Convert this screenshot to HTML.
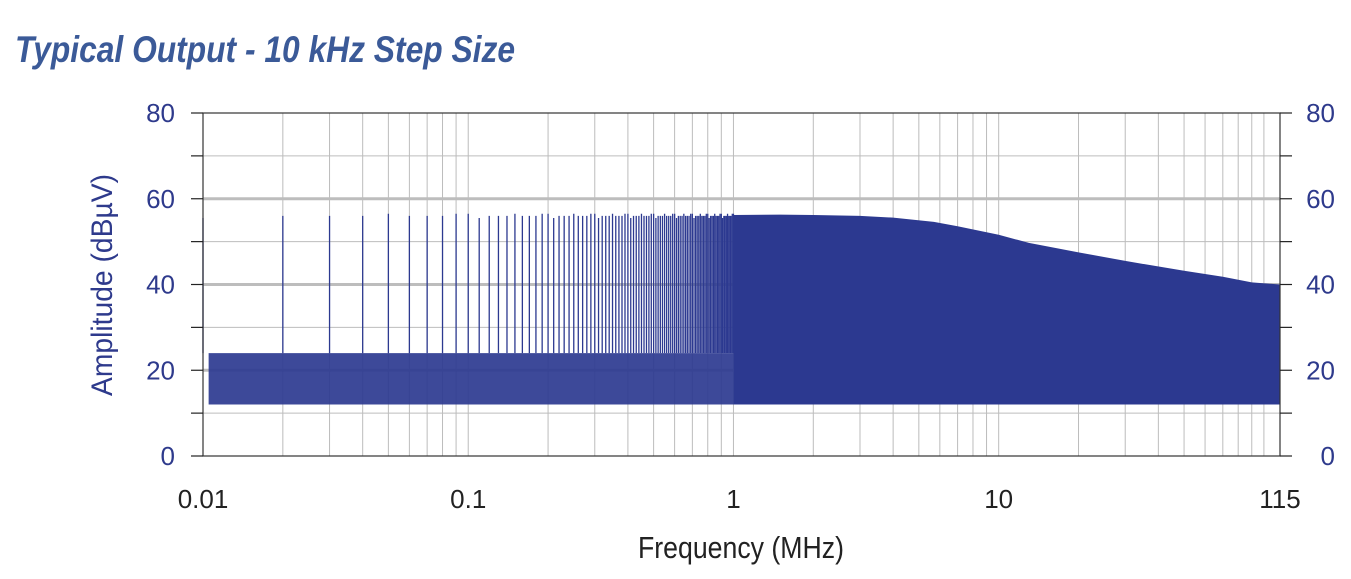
<!DOCTYPE html>
<html><head><meta charset="utf-8"><style>
html,body{margin:0;padding:0;background:#fff;}
svg{display:block;font-family:"Liberation Sans",sans-serif;}
</style></head><body>
<svg id="chart" width="1351" height="579" viewBox="0 0 1351 579">
<text x="15" y="62" font-size="37" font-style="italic" font-weight="bold" fill="#3b5a98" textLength="500" lengthAdjust="spacingAndGlyphs">Typical Output - 10 kHz Step Size</text>
<g id="grid"></g>
<g id="series"></g>
<g id="axes"></g>
<text x="741" y="558" font-size="31" fill="#222" text-anchor="middle" textLength="206" lengthAdjust="spacingAndGlyphs">Frequency (MHz)</text>
<text transform="translate(112,285) rotate(-90)" font-size="30" fill="#2e3a8c" text-anchor="middle" textLength="222" lengthAdjust="spacingAndGlyphs">Amplitude (dBµV)</text>
</svg>
<script>
const stepMHz = 0.01;
const spikeMaxMHz = 1;
const spikeLevel = [55.5, 56, 56, 56, 56.5, 56, 56, 56, 56.5, 56.5];
const noiseLow = [12, 12, 12, 12];
const noiseHigh = [24, 24, 24, 24];
const noiseFreq = [0.0105, 0.1, 0.5, 1.0];
const envFreq = [1, 1.5, 2, 3, 4, 5.7, 7, 10, 13, 20, 30, 50, 70, 90, 115];
const envLevel = [56.2, 56.3, 56.2, 56, 55.6, 54.6, 53.6, 51.6, 49.7, 47.5, 45.5, 43.2, 41.8, 40.5, 40];
const envFloor = 12;
const yTicks = [0, 20, 40, 60, 80];
const xTickLabels = ["0.01", "0.1", "1", "10", "115"];
const xTickVals = [0.01, 0.1, 1, 10, 115];

const L = 203, R = 1280, T = 113, B = 456;
const fMin = 0.01, fMax = 115;
const X = f => L + (Math.log10(f) - Math.log10(fMin)) / (Math.log10(fMax) - Math.log10(fMin)) * (R - L);
const Y = v => B - v / 80 * (B - T);
const NS = "http://www.w3.org/2000/svg";
function mk(tag, attrs, parent) {
  const e = document.createElementNS(NS, tag);
  for (const k in attrs) e.setAttribute(k, attrs[k]);
  parent.appendChild(e);
  return e;
}
const grid = document.getElementById('grid');
const series = document.getElementById('series');
const axes = document.getElementById('axes');

// vertical grid
for (let d = -2; d <= 2; d++) {
  for (let m = 1; m <= 9; m++) {
    const f = m * Math.pow(10, d);
    if (f <= fMin || f >= fMax) continue;
    const ln = mk('line', {x1: X(f), x2: X(f), y1: T, y2: B, stroke: '#bcbcbc', 'stroke-width': 1}, grid);
    
    
  }
}
// horizontal grid
for (let v = 10; v < 80; v += 10) {
  const major = v % 20 === 0;
  const ln = mk('line', {x1: L, x2: R, y1: Y(v), y2: Y(v), stroke: '#bdbdbd', 'stroke-width': major ? 3 : 1}, grid);
  
  
}

// noise band
let nb = '';
noiseFreq.forEach((f, i) => { nb += (i ? 'L' : 'M') + X(f) + ',' + Y(noiseHigh[i]); });
for (let i = noiseFreq.length - 1; i >= 0; i--) nb += 'L' + X(noiseFreq[i]) + ',' + Y(noiseLow[i]);
const nbp = mk('path', {d: nb + 'Z', fill: '#2c3990', 'fill-opacity': 0.92}, series);



// spikes
const nSpikes = Math.round(spikeMaxMHz / stepMHz);
for (let n = 1; n <= nSpikes; n++) {
  const f = n * stepMHz;
  const lev = spikeLevel[(n - 1) % spikeLevel.length];
  const ln = mk('line', {x1: X(f), x2: X(f), y1: Y(noiseHigh[0]), y2: Y(lev), stroke: '#2c3990', 'stroke-width': 1.3}, series);
  
  
}

// envelope above 1 MHz
let ep = 'M' + X(envFreq[0]) + ',' + Y(envFloor);
envFreq.forEach((f, i) => { ep += 'L' + X(f) + ',' + Y(envLevel[i]); });
ep += 'L' + X(envFreq[envFreq.length - 1]) + ',' + Y(envFloor) + 'Z';
const env = mk('path', {d: ep, fill: '#2c3990'}, series);



// frame
const fr = mk('rect', {x: L, y: T, width: R - L, height: B - T, fill: 'none', stroke: '#333', 'stroke-width': 1.2}, axes);


for (let v = 0; v <= 80; v += 10) {
  const t1 = mk('line', {x1: L - 12, x2: L, y1: Y(v), y2: Y(v), stroke: '#222', 'stroke-width': 1.2}, axes);
  
  
  const t2 = mk('line', {x1: R, x2: R + 12, y1: Y(v), y2: Y(v), stroke: '#222', 'stroke-width': 1.2}, axes);
  
  
}
yTicks.forEach(v => {
  const a = mk('text', {x: L - 28, y: Y(v) + 9, 'font-size': 26, fill: '#2e3a8c', 'text-anchor': 'end'}, axes);
  a.textContent = v;
  
  
  const b = mk('text', {x: R + 55, y: Y(v) + 9, 'font-size': 26, fill: '#2e3a8c', 'text-anchor': 'end'}, axes);
  b.textContent = v;
  
  
});
xTickVals.forEach((f, i) => {
  const t = mk('text', {x: X(f), y: 508, 'font-size': 26, fill: '#222', 'text-anchor': 'middle'}, axes);
  t.textContent = xTickLabels[i];
  
  
});
</script>
</body></html>
